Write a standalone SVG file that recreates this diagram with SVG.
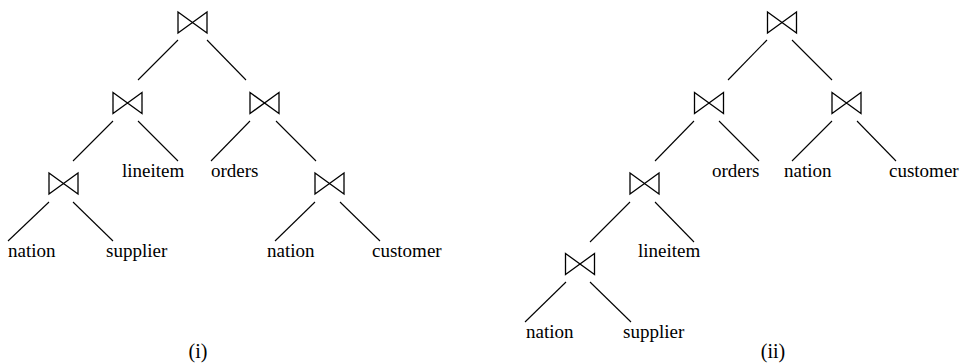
<svg xmlns="http://www.w3.org/2000/svg" xmlns:xlink="http://www.w3.org/1999/xlink" width="960" height="364" viewBox="0 0 960 364">
  <style>
    .edge { stroke: #000; stroke-width: 1.1; fill: none; }
    .join { stroke: #000; stroke-width: 1.3; fill: none; stroke-linejoin: miter; }
    .lbl { font-family: "Liberation Serif", "Times New Roman", serif; font-size: 19px; fill: #000; }
    .cap { font-family: "Liberation Serif", "Times New Roman", serif; font-size: 20px; fill: #000; text-anchor: middle; }
  </style>
  <defs>
    <!-- join symbol (bowtie), centred on the origin -->
    <path id="bowtie" class="join" d="M-14.5,-10.5 V10.5 L14.5,-10.5 V10.5 Z"/>
  </defs>
  <rect width="960" height="364" fill="#fff"/>

  <!-- connectors -->
  <g id="connectors">
    <!-- plan (i) -->
    <line class="edge" x1="178" y1="40" x2="138" y2="80"/>
    <line class="edge" x1="207" y1="40" x2="246" y2="80"/>
    <line class="edge" x1="113" y1="121" x2="73" y2="161"/>
    <line class="edge" x1="138" y1="121" x2="178" y2="161"/>
    <line class="edge" x1="250" y1="121" x2="211" y2="161"/>
    <line class="edge" x1="276" y1="121" x2="316" y2="161"/>
    <line class="edge" x1="49" y1="202" x2="8" y2="241"/>
    <line class="edge" x1="73" y1="202" x2="113" y2="241"/>
    <line class="edge" x1="315" y1="202" x2="275" y2="241"/>
    <line class="edge" x1="340" y1="202" x2="380" y2="241"/>
    <!-- plan (ii) -->
    <line class="edge" x1="767" y1="40" x2="728" y2="80"/>
    <line class="edge" x1="792" y1="40" x2="832" y2="80"/>
    <line class="edge" x1="694" y1="121" x2="655" y2="161"/>
    <line class="edge" x1="719" y1="121" x2="759" y2="161"/>
    <line class="edge" x1="832" y1="121" x2="792" y2="161"/>
    <line class="edge" x1="857" y1="121" x2="896" y2="161"/>
    <line class="edge" x1="630" y1="202" x2="590" y2="242"/>
    <line class="edge" x1="655" y1="202" x2="694" y2="242"/>
    <line class="edge" x1="566" y1="282" x2="525" y2="322"/>
    <line class="edge" x1="590" y1="282" x2="631" y2="322"/>
  </g>

  <!-- plan (i) joins -->
  <g id="i-join-root"><use xlink:href="#bowtie" href="#bowtie" transform="translate(192.5,22.5)"/></g>
  <g id="i-join-left"><use xlink:href="#bowtie" href="#bowtie" transform="translate(127.5,103)"/></g>
  <g id="i-join-right"><use xlink:href="#bowtie" href="#bowtie" transform="translate(264.5,103)"/></g>
  <g id="i-join-ns"><use xlink:href="#bowtie" href="#bowtie" transform="translate(63.5,183.5)"/></g>
  <g id="i-join-nc"><use xlink:href="#bowtie" href="#bowtie" transform="translate(329.5,183.5)"/></g>

  <!-- plan (i) relations -->
  <g id="i-lineitem"><text class="lbl" x="122" y="177">lineitem</text></g>
  <g id="i-orders"><text class="lbl" x="211" y="177">orders</text></g>
  <g id="i-nation1"><text class="lbl" x="8" y="257">nation</text></g>
  <g id="i-supplier"><text class="lbl" x="106" y="257">supplier</text></g>
  <g id="i-nation2"><text class="lbl" x="267" y="257">nation</text></g>
  <g id="i-customer"><text class="lbl" x="372" y="257">customer</text></g>

  <!-- plan (ii) joins -->
  <g id="ii-join-root"><use xlink:href="#bowtie" href="#bowtie" transform="translate(782,22.5)"/></g>
  <g id="ii-join-left"><use xlink:href="#bowtie" href="#bowtie" transform="translate(709,103)"/></g>
  <g id="ii-join-right"><use xlink:href="#bowtie" href="#bowtie" transform="translate(846.5,103)"/></g>
  <g id="ii-join-mid"><use xlink:href="#bowtie" href="#bowtie" transform="translate(644.5,183.5)"/></g>
  <g id="ii-join-ns"><use xlink:href="#bowtie" href="#bowtie" transform="translate(580,264)"/></g>

  <!-- plan (ii) relations -->
  <g id="ii-orders"><text class="lbl" x="712" y="177">orders</text></g>
  <g id="ii-nation1"><text class="lbl" x="784" y="177">nation</text></g>
  <g id="ii-customer"><text class="lbl" x="889" y="177">customer</text></g>
  <g id="ii-lineitem"><text class="lbl" x="638" y="257">lineitem</text></g>
  <g id="ii-nation2"><text class="lbl" x="526" y="338">nation</text></g>
  <g id="ii-supplier"><text class="lbl" x="623" y="338">supplier</text></g>

  <!-- captions -->
  <g id="caption-i"><text class="cap" x="198" y="358">(i)</text></g>
  <g id="caption-ii"><text class="cap" x="773" y="358">(ii)</text></g>
</svg>
